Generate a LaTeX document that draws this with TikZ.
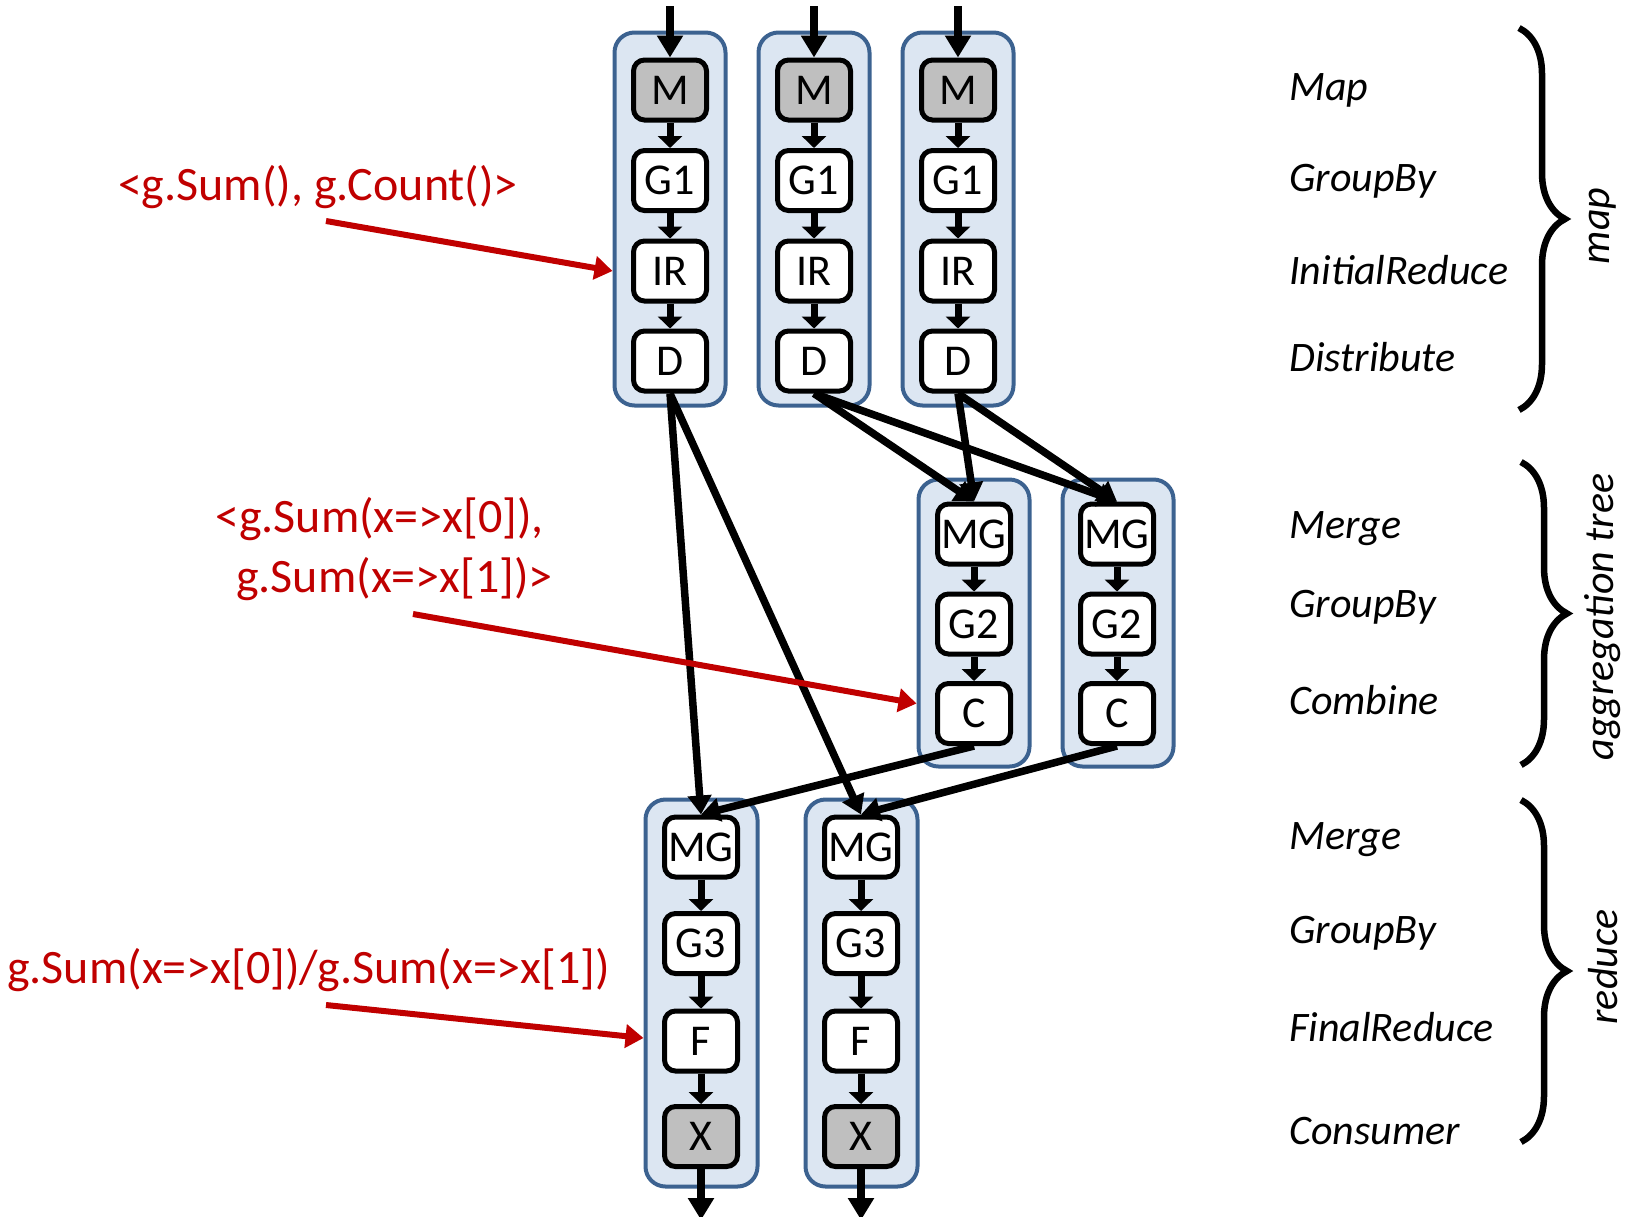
\documentclass[tikz,border=0pt]{standalone}
\usepackage{fontspec}
\setmainfont{Carlito}
\usetikzlibrary{arrows.meta,decorations.pathreplacing,calc}

\definecolor{laneblue}{HTML}{DCE6F2}
\definecolor{laneedge}{HTML}{3C6290}
\definecolor{opgray}{HTML}{BFBFBF}
\definecolor{notered}{HTML}{C00000}

\begin{document}
\begin{tikzpicture}[x=1pt,y=-1pt,
  lane/.style={draw=laneedge, fill=laneblue, line width=4pt, rounded corners=20pt,
               minimum width=111pt, inner sep=0pt},
  op/.style={draw=black, fill=white, line width=5pt, rounded corners=11pt,
             minimum width=73pt, minimum height=60pt, inner sep=0pt,
             font=\fontsize{44}{48}\selectfont},
  src/.style={op, fill=opgray},
  hop/.style={line width=7pt, -{Triangle[length=12pt,width=24pt]}},
  feed/.style={line width=8pt, -{Triangle[length=22pt,width=25pt]}},
  cross/.style={line width=7.5pt, -{Triangle[length=19pt,width=23pt]}},
  note/.style={text=notered, font=\fontsize{48}{52}\selectfont, inner sep=0pt},
  callout/.style={draw=notered, line width=6pt, -{Triangle[length=18pt,width=23pt]}},
  phase/.style={font=\itshape\fontsize{42}{46}\selectfont, anchor=base west, inner sep=0pt},
  stage/.style={font=\itshape\fontsize{42}{44}\selectfont, rotate=90, inner sep=0pt},
  bracket/.style={line width=6.5pt, decorate, decoration={brace, amplitude=46pt, aspect=0.5}}
]
\useasboundingbox (0,0) rectangle (1627,1216);

% lanes (stage containers)
\node[lane, minimum height=373pt] (lt1) at (670,219) {};
\node[lane, minimum height=373pt] (lt2) at (814,219) {};
\node[lane, minimum height=373pt] (lt3) at (958,219) {};
\node[lane, minimum height=287pt] (lm1) at (974,623) {};
\node[lane, minimum height=287pt] (lm2) at (1118,623) {};
\node[lane, minimum width=112pt, minimum height=387pt] (lb1) at (701.5,993) {};
\node[lane, minimum width=112pt, minimum height=387pt] (lb2) at (861.5,993) {};

% map stage
\foreach \i/\x in {1/670,2/814,3/958} {
  \node[src] (m\i)  at (\x,90)    {M};
  \node[op]  (ga\i) at (\x,180.5) {G1};
  \node[op]  (ir\i) at (\x,271)   {IR};
  \node[op]  (d\i)  at (\x,361)   {D};
  \coordinate (in\i) at (\x,6);
  \draw[feed] (in\i) -- (m\i);
  \draw[hop] (m\i) -- (ga\i);
  \draw[hop] (ga\i) -- (ir\i);
  \draw[hop] (ir\i) -- (d\i);
}

% aggregation tree stage
\foreach \i/\x in {1/974,2/1117} {
  \node[op] (mgm\i) at (\x,534)   {MG};
  \node[op] (gb\i)  at (\x,624)   {G2};
  \node[op] (cm\i)  at (\x,713.5) {C};
  \draw[hop] (mgm\i) -- (gb\i);
  \draw[hop] (gb\i) -- (cm\i);
}

% reduce stage
\foreach \i/\x in {1/701,2/861} {
  \node[op]  (mgb\i) at (\x,847)    {MG};
  \node[op]  (gc\i)  at (\x,943.5)  {G3};
  \node[op]  (fb\i)  at (\x,1041)   {F};
  \node[src] (xb\i)  at (\x,1136.5) {X};
  \coordinate (out\i) at (\x,1220);
  \draw[hop] (mgb\i) -- (gc\i);
  \draw[hop] (gc\i) -- (fb\i);
  \draw[hop] (fb\i) -- (xb\i);
  \draw[feed] (xb\i) -- (out\i);
}

% data exchange between stages
\draw[cross] (d1.south) -- (mgb1.north);
\draw[cross] (d1.south) -- (mgb2.north);
\draw[cross] (d2.south) -- (mgm1.north);
\draw[cross] (d2.south) -- (mgm2.north);
\draw[cross] (d3.south) -- (mgm1.north);
\draw[cross] (d3.south) -- (mgm2.north);
\draw[cross] (cm1.south) -- (mgb1.north);
\draw[cross] (cm2.south) -- (mgb2.north);

% annotations
\node[note, anchor=base] (n1) at (318,200) {<g.Sum(), g.Count()>};
\node[note, anchor=base west] (n2a) at (215,532) {<g.Sum(x=>x[0]),};
\node[note, anchor=base west] (n2b) at (236,592) {g.Sum(x=>x[1])>};
\node[note, anchor=base west] (n3) at (7,983) {g.Sum(x=>x[0])/g.Sum(x=>x[1])};

\coordinate (c1s) at (326,221);
\coordinate (c2s) at (413,614);
\coordinate (c3s) at (326,1005);
\draw[callout] (c1s) -- (lt1.west |- ir1);
\draw[callout] (c2s) -- ($(lm1.west |- cm1)+(0,-10)$);
\draw[callout] (c3s) -- ($(lb1.west |- fb1)+(0,-3)$);

% operator names
\node[phase] (p1)  at (1289,100)  {Map};
\node[phase] (p2)  at (1289,191)  {GroupBy};
\node[phase] (p3)  at (1289,284)  {InitialReduce};
\node[phase] (p4)  at (1289,371)  {Distribute};
\node[phase] (p5)  at (1289,538)  {Merge};
\node[phase] (p6)  at (1289,617)  {GroupBy};
\node[phase] (p7)  at (1289,714)  {Combine};
\node[phase] (p8)  at (1289,849)  {Merge};
\node[phase] (p9)  at (1289,943)  {GroupBy};
\node[phase] (p10) at (1289,1041) {FinalReduce};
\node[phase] (p11) at (1289,1144) {Consumer};

% stage braces and names
\draw[bracket] (1519,28) -- (1519,410);
\draw[bracket] (1521,462) -- (1521,765);
\draw[bracket] (1521,800) -- (1521,1142);
\node[stage] (s1) at (1603,226) {map};
\node[stage] (s2) at (1603,617) {aggregation tree};
\node[stage] (s3) at (1603,967) {reduce};
\end{tikzpicture}
\end{document}
